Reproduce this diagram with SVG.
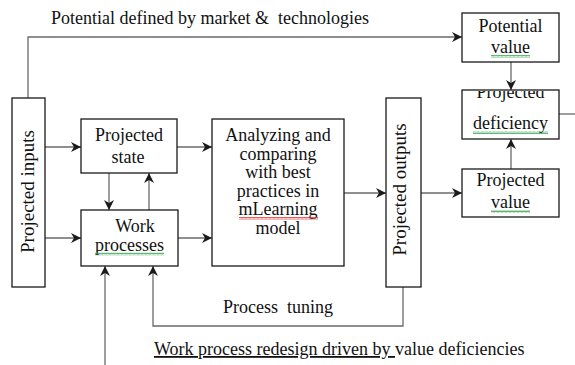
<svg xmlns="http://www.w3.org/2000/svg" width="575" height="365" viewBox="0 0 575 365">
<style>
  .box { fill: #ffffff; stroke: #1a1a1a; stroke-width: 1.3; }
  .t { font-family: "Liberation Serif", "Times New Roman", serif; font-size: 18px; fill: #111111; }
  .tc { text-anchor: middle; }
  .rot { font-size: 19px; }
  .conn { fill: none; stroke: #6a6a6a; stroke-width: 1.3; }
</style>
<defs>
  <marker id="arr" markerUnits="userSpaceOnUse" markerWidth="10" markerHeight="10" refX="10" refY="5" orient="auto">
    <path d="M0,0 L10,5 L0,10 L3,5 Z" fill="#1a1a1a"/>
  </marker>
  <pattern id="sqG" width="4" height="3" patternUnits="userSpaceOnUse">
    <path d="M0,2.5 L1,0.5 L2,2.5 L3,0.5 L4,2.5" fill="none" stroke="#3aa655" stroke-width="0.8"/>
  </pattern>
  <pattern id="sqR" width="4" height="3" patternUnits="userSpaceOnUse">
    <path d="M0,2.5 L1,0.5 L2,2.5 L3,0.5 L4,2.5" fill="none" stroke="#e03030" stroke-width="0.8"/>
  </pattern>
  <clipPath id="defClip">
    <rect x="462" y="91" width="97" height="48"/>
  </clipPath>
</defs>

<g id="connectors">
  <path class="conn" d="M28,98 V37 H462" marker-end="url(#arr)"/>
  <path class="conn" d="M45,147 H81" marker-end="url(#arr)"/>
  <path class="conn" d="M45,238 H81" marker-end="url(#arr)"/>
  <path class="conn" d="M177,147 H212" marker-end="url(#arr)"/>
  <path class="conn" d="M178,238 H212" marker-end="url(#arr)"/>
  <path class="conn" d="M109,173 V210" marker-end="url(#arr)"/>
  <path class="conn" d="M149,210 V173" marker-end="url(#arr)"/>
  <path class="conn" d="M344,193 H386" marker-end="url(#arr)"/>
  <path class="conn" d="M421,193 H462" marker-end="url(#arr)"/>
  <path class="conn" d="M511,62 V90" marker-end="url(#arr)"/>
  <path class="conn" d="M511,169 V139" marker-end="url(#arr)"/>
  <path class="conn" d="M559,114 H575"/>
  <path class="conn" d="M403,287 V326 H153 V266" marker-end="url(#arr)"/>
  <path class="conn" d="M105,365 V266" marker-end="url(#arr)"/>
  <text class="t" x="51" y="24" xml:space="preserve">Potential defined by market &amp;  technologies</text>
  <text class="t" x="223" y="313" xml:space="preserve">Process  tuning</text>
  <text class="t" x="154" y="355"><tspan text-decoration="underline">Work process redesign driven by </tspan>value deficiencies</text>
</g>

<g id="projected-inputs">
  <rect class="box" x="12" y="98" width="33" height="189"/>
  <text class="t tc rot" transform="translate(33.5,191.5) rotate(-90)">Projected inputs</text>
</g>

<g id="projected-state">
  <rect class="box" x="81" y="119" width="96" height="54"/>
  <text class="t tc" x="129" y="141">Projected</text>
  <text class="t tc" x="128" y="163">state</text>
</g>

<g id="work-processes">
  <rect class="box" x="81" y="210" width="97" height="56"/>
  <text class="t tc" x="135" y="232">Work</text>
  <text class="t tc" x="129.5" y="250.5">processes</text>
  <rect x="95" y="252.5" width="69" height="3" fill="url(#sqG)"/>
</g>

<g id="analyzing">
  <rect class="box" x="212" y="119" width="132" height="147"/>
  <text class="t tc" x="278" y="141">Analyzing and</text>
  <text class="t tc" x="278" y="159.5">comparing</text>
  <text class="t tc" x="278" y="178">with best</text>
  <text class="t tc" x="278" y="196.5">practices in</text>
  <text class="t tc" x="278" y="215">mLearning</text>
  <rect x="239" y="217" width="79" height="3" fill="url(#sqR)"/>
  <text class="t tc" x="278" y="233.5">model</text>
</g>

<g id="projected-outputs">
  <rect class="box" x="386" y="98" width="35" height="189"/>
  <text class="t tc rot" transform="translate(406,189.5) rotate(-90)">Projected outputs</text>
</g>

<g id="potential-value">
  <rect class="box" x="462" y="13" width="97" height="49"/>
  <text class="t tc" x="510.5" y="32">Potential</text>
  <text class="t tc" x="510.5" y="53">value</text>
  <rect x="491" y="55" width="39" height="3" fill="url(#sqG)"/>
</g>

<g id="projected-deficiency">
  <rect class="box" x="462" y="90" width="97" height="49"/>
  <text class="t tc" x="510.5" y="97.5" clip-path="url(#defClip)">Projected</text>
  <text class="t tc" x="510.5" y="129">deficiency</text>
  <rect x="473" y="131" width="75" height="3" fill="url(#sqG)"/>
</g>

<g id="projected-value">
  <rect class="box" x="462" y="169" width="97" height="48"/>
  <text class="t tc" x="510.5" y="186">Projected</text>
  <text class="t tc" x="510.5" y="208">value</text>
  <rect x="491" y="210" width="39" height="3" fill="url(#sqG)"/>
</g>
</svg>
